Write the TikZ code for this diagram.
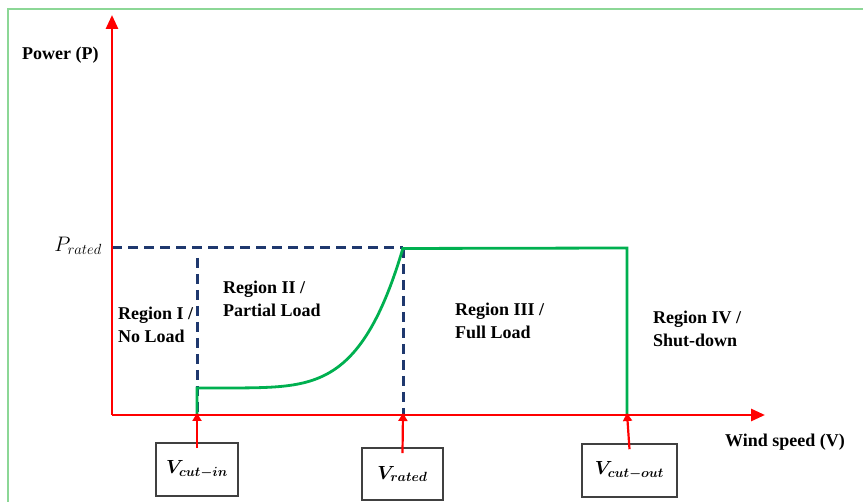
\RequirePackage{fix-cm}
\documentclass[tikz,border=0pt]{standalone}
\usepackage{fontspec}
\setmainfont{Liberation Serif}
\usepackage{bm}
\usetikzlibrary{arrows.meta}

\definecolor{axisred}{RGB}{255,0,0}
\definecolor{curvegreen}{RGB}{0,176,80}
\definecolor{dashblue}{RGB}{31,56,110}
\definecolor{framegreen}{RGB}{140,215,150}
\definecolor{boxgray}{RGB}{64,64,64}

\tikzset{
  axisline/.style={draw=axisred, line width=2.8pt,
    -{Triangle[length=14pt,width=12pt]}},
  marker/.style={draw=axisred, line width=2.2pt,
    -{Triangle[length=8pt,width=9pt]}},
  powercurve/.style={draw=curvegreen, line width=2.8pt, line join=miter},
  dashguide/.style={draw=dashblue, line width=3pt, dash pattern=on 10pt off 6pt},
  txtlabel/.style={font=\bfseries\fontsize{18}{22.5}\selectfont, align=left,
    inner sep=0pt, anchor=west},
  speedbox/.style={draw=boxgray, line width=1.6pt, inner sep=0pt,
    font=\fontsize{19}{22}\selectfont}
}

\begin{document}
\begin{tikzpicture}[x=1pt, y=-1pt]
\useasboundingbox (0,0) rectangle (863,502);

% outer frame (top and left edges)
\draw[framegreen, line width=2pt] (8,502) -- (8,9) -- (863,9);

% key points
\coordinate (O) at (112,415);
\coordinate (ytip) at (112,15);
\coordinate (xtip) at (765,415);
\coordinate (prated) at (112,248);
\coordinate (cin) at (197,415);
\coordinate (cinlow) at (197,388);
\coordinate (cintop) at (197,258);
\coordinate (rated) at (403,415);
\coordinate (ratedtop) at (403,248);
\coordinate (cout) at (627,415);
\coordinate (couttop) at (627,248);

% dashed guide lines
\draw[dashguide] (prated) -- (ratedtop);
\draw[dashguide] (cintop) -- (cin);
\draw[dashguide] (ratedtop) -- (rated);

% power curve
\draw[powercurve] (cin) -- (cinlow)
  -- plot[domain=0:1, samples=80] ({197+206*\x},{388-140*(\x)^5})
  -- (couttop) -- (cout);

% axes
\draw[axisline] (O) -- (ytip);
\draw[axisline] (O) -- (xtip);

% axis labels
\node[txtlabel] (plabel) at (22,55) {Power (P)};
\node[txtlabel] (vlabel) at (725,442) {Wind speed (V)};
\node[inner sep=0pt, anchor=east, font=\fontsize{21}{24}\selectfont] (pr) at (102,246) {$P_{rated}$};

% region labels
\node[txtlabel] (r1) at (118,325) {Region I /\\No Load};
\node[txtlabel] (r2) at (223,299) {Region II /\\Partial Load};
\node[txtlabel] (r3) at (455,321) {Region III /\\Full Load};
\node[txtlabel] (r4) at (653,329) {Region IV /\\Shut-down};

% characteristic speed boxes
\node[speedbox, minimum width=82pt, minimum height=53pt] (bcin) at (197,469.5) {$\bm{V_{cut-in}}$};
\node[speedbox, minimum width=81pt, minimum height=52pt] (brated) at (402.5,474) {$\bm{V_{rated}}$};
\node[speedbox, minimum width=95pt, minimum height=53pt] (bcout) at (629.5,470.5) {$\bm{V_{cut-out}}$};

% markers pointing at the wind speed axis
\draw[marker] ([yshift=-6pt]bcin.north) -- ([yshift=2pt]cin);
\draw[marker] ([yshift=-6pt]brated.north) -- ([yshift=2pt]rated);
\draw[marker] ([yshift=-6pt]bcout.north) -- ([yshift=2pt]cout);
\end{tikzpicture}
\end{document}
